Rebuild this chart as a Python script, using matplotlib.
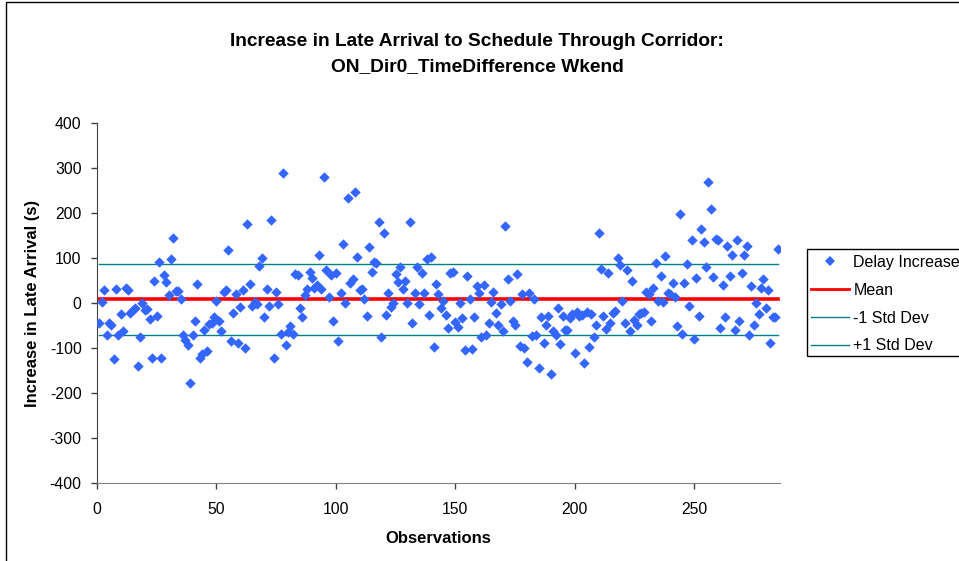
import matplotlib
matplotlib.use("Agg")
import matplotlib.pyplot as plt
from matplotlib.lines import Line2D
from matplotlib.patches import Rectangle

plt.rcParams['font.family'] = ['Liberation Sans', 'DejaVu Sans']
plt.rcParams['axes.unicode_minus'] = False

delay = [
    -45, 3, 29, -70, -45, -48, -124, 31, -70, -25, -62, 34, 29, -23, -15, -10, -141, -76, -1, -15,
    -13, -36, -122, 50, -29, 91, -122, 62, 47, 18, 98, 144, 26, 26, 10, -70, -83, -94, -178, -70,
    -39, 43, -123, -113, -61, -107, -47, -45, -31, 5, -41, -62, 25, 29, 118, -85, -23, 19, -89, -9,
    29, -100, 175, 42, -6, 3, -3, 82, 100, -31, 31, -6, 184, -123, 25, -3, -68, 290, -94, -64,
    -52, -68, 65, 62, -12, -31, 18, 31, 69, 56, 34, 40, 107, 32, 281, 73, 14, 62, -40, 67,
    -85, 23, 131, 1, 234, 45, 53, 246, 102, 29, 32, 10, -29, 124, 70, 91, 89, 180, -76, 155,
    -26, 23, -9, 1, 65, 47, 80, 31, 50, 1, 179, -45, 23, 81, -3, 67, 23, 98, -26, 102,
    -98, 42, 20, -12, 5, -26, -56, 67, 70, -43, -54, 1, -34, -105, 59, 10, -102, -31, 37, 23,
    -76, 40, -70, -45, 3, 25, -23, -48, -3, -62, 171, 53, 5, -39, -48, 64, -95, 21, -100, -130,
    23, -74, 9, -70, -144, -31, -89, -48, -29, -158, -63, -70, -12, -91, -29, -59, -59, -34, -25, -111,
    -20, -29, -26, -133, -20, -98, -25, -76, -48, 155, 76, -29, -57, 67, -45, -23, -18, 100, 84, 5,
    -45, 73, -62, 48, -37, -48, -25, -23, -19, 25, 19, -41, 34, 89, 5, 59, 3, 104, 23, 19,
    45, 14, -51, 197, -68, 45, 87, -6, 141, -79, 56, -29, 164, 135, 81, 270, 209, 58, 142, 141,
    -56, 40, -31, 127, 59, 107, -61, 141, -39, 67, 107, 127, -70, 37, -48, 1, -25, 34, 53, -12,
    29, -89, -31, -31, 120,
]
observations = list(range(1, len(delay) + 1))

mean_value = 8
minus_std = -70
plus_std = 87

W, H = 959, 561
fig = plt.figure(figsize=(W / 100, H / 100), dpi=100)

# chart-area border (extends off the right and bottom of the picture)
fig.patches.append(Rectangle((6 / W, -0.1), 1.2, 1 - 2 / H + 0.1, transform=fig.transFigure,
                             fill=False, edgecolor='black', linewidth=1.0))

left, right, top, bottom = 97, 780, 123, 483
ax = fig.add_axes([left / W, 1 - bottom / H, (right - left) / W, (bottom - top) / H])

ax.scatter(observations, delay, marker='D', s=28, color='#3366FF', linewidths=0, zorder=3,
           label='Delay Increase')
x0, x1 = observations[0], observations[-1]
ax.plot([x0, x1], [mean_value, mean_value], color='#FF0000', linewidth=2.6, zorder=2, label='Mean')
ax.plot([x0, x1], [minus_std, minus_std], color='#008080', linewidth=1.0, zorder=2, label='-1 Std Dev')
ax.plot([x0, x1], [plus_std, plus_std], color='#008080', linewidth=1.0, zorder=2, label='+1 Std Dev')

ax.set_xlim(0, 286)
ax.set_ylim(-400, 400)
ax.set_xticks([0, 50, 100, 150, 200, 250])
ax.set_yticks(range(-400, 401, 100))
for s in ['top', 'right']:
    ax.spines[s].set_visible(False)
ax.spines['left'].set_color('#404040')
ax.spines['bottom'].set_color('#808080')
ax.tick_params(axis='both', labelsize=11.3, length=4, width=1, color='#404040')
ax.tick_params(axis='y', pad=7)
ax.tick_params(axis='x', direction='out', pad=10)

ax.set_xlabel('Observations', fontsize=12, fontweight='bold', labelpad=10)
ax.set_ylabel('Increase in Late Arrival (s)', fontsize=12, fontweight='bold', labelpad=7)

fig.text(477 / W, 1 - 42 / H, 'Increase in Late Arrival to Schedule Through Corridor:',
         ha='center', va='center', fontsize=13.8, fontweight='bold')
fig.text(477 / W, 1 - 67 / H, 'ON_Dir0_TimeDifference Wkend',
         ha='center', va='center', fontsize=13.8, fontweight='bold')

# legend frame (its right side runs off the picture)
fig.patches.append(Rectangle((807 / W, 1 - 356 / H), 0.5, (356 - 249) / H,
                             transform=fig.transFigure, fill=True, facecolor='white',
                             edgecolor='black', linewidth=1.0, zorder=5))
handles = [
    Line2D([], [], marker='D', linestyle='none', color='#3366FF', markersize=5, markeredgewidth=0),
    Line2D([], [], color='#FF0000', linewidth=2.0),
    Line2D([], [], color='#008080', linewidth=1.0),
    Line2D([], [], color='#008080', linewidth=1.0),
]
labels = ['Delay Increase', 'Mean', '-1 Std Dev', '+1 Std Dev']
leg = fig.legend(handles, labels, loc='upper left', bbox_to_anchor=(811 / W, 1 - 255 / H),
                 frameon=False, fontsize=11.5,
                 handlelength=2.4, handletextpad=0.25, borderpad=0.0, labelspacing=0.8,
                 borderaxespad=0)
leg.set_zorder(6)

fig.savefig('out.png', dpi=100)
